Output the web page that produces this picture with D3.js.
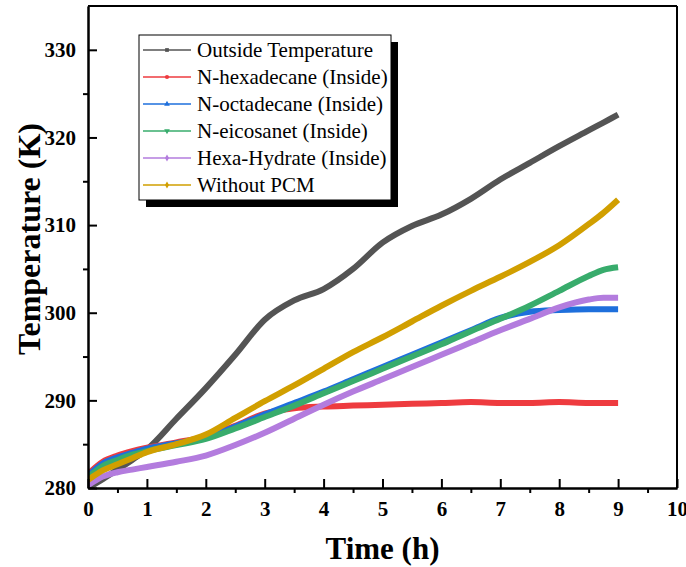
<!DOCTYPE html>
<html>
<head>
<meta charset="utf-8">
<script src="https://cdn.jsdelivr.net/npm/d3@7"></script>
<style>
  html, body { margin: 0; padding: 0; background: #fff; }
  svg { display: block; }
  text { font-family: "Liberation Serif", "Times New Roman", serif; }
</style>
</head>
<body>
<div id="chart"></div>
<script>
// Time axis samples (h)
const hours = [0, 0.25, 0.5, 0.75, 1, 1.5, 2, 2.5, 3, 3.5, 4, 4.5, 5, 5.5, 6, 6.5, 7, 7.5, 8, 8.5, 8.75, 9];

// Temperatures (K) for each case
const outsideTemp   = [280.0, 281.0, 282.1, 283.2, 284.4, 287.9, 291.4, 295.2, 299.2, 301.4, 302.7, 305.0, 308.0, 309.9, 311.2, 313.0, 315.2, 317.1, 319.0, 320.8, 321.7, 322.6];
const nHexadecane   = [281.6, 283.0, 283.7, 284.2, 284.6, 285.2, 285.9, 287.1, 288.5, 289.1, 289.3, 289.4, 289.5, 289.6, 289.7, 289.8, 289.7, 289.7, 289.8, 289.7, 289.7, 289.7];
const nOctadecane   = [281.4, 282.8, 283.5, 284.0, 284.5, 285.1, 285.8, 287.0, 288.4, 289.7, 291.0, 292.4, 293.8, 295.2, 296.6, 298.0, 299.4, 300.1, 300.3, 300.4, 300.4, 300.4];
const nEicosanet    = [281.2, 282.5, 283.2, 283.8, 284.2, 284.9, 285.6, 286.8, 288.1, 289.4, 290.8, 292.2, 293.6, 295.0, 296.4, 297.9, 299.3, 300.8, 302.5, 304.2, 304.9, 305.2];
const hexaHydrate   = [280.3, 281.3, 281.8, 282.1, 282.4, 283.0, 283.7, 284.9, 286.3, 287.9, 289.5, 291.0, 292.4, 293.8, 295.2, 296.6, 298.0, 299.3, 300.6, 301.5, 301.7, 301.7];
const withoutPCM    = [280.9, 282.0, 282.7, 283.4, 284.1, 285.0, 286.1, 288.0, 289.9, 291.7, 293.6, 295.5, 297.2, 299.0, 300.8, 302.5, 304.1, 305.8, 307.7, 310.1, 311.4, 312.9];

const seriesNames  = ["Outside Temperature", "N-hexadecane (Inside)", "N-octadecane (Inside)", "N-eicosanet (Inside)", "Hexa-Hydrate (Inside)", "Without PCM"];
const seriesValues = [outsideTemp, nHexadecane, nOctadecane, nEicosanet, hexaHydrate, withoutPCM];
const seriesColors = ["#545454", "#EE3B3F", "#1E6FDC", "#38AC6C", "#B37CDE", "#D19F00"];
const seriesSymbols = [d3.symbolSquare, d3.symbolCircle, d3.symbolTriangle, d3.symbolTriangle, d3.symbolDiamond, d3.symbolDiamond];

const xTicks = [0, 1, 2, 3, 4, 5, 6, 7, 8, 9, 10];
const yTicks = [280, 290, 300, 310, 320, 330];

const W = 686, H = 567;
const margin = { left: 88, right: 9, top: 6, bottom: 79 };

const svg = d3.select("#chart").append("svg")
  .attr("width", W).attr("height", H);

const x = d3.scaleLinear().domain([0, 10]).range([margin.left, W - margin.right]);
const y = d3.scaleLinear().domain([280, 335]).range([H - margin.bottom, margin.top]);

// clip region for data lines
svg.append("clipPath").attr("id", "plot-clip")
  .append("rect")
  .attr("x", x(0)).attr("y", y(335))
  .attr("width", x(10) - x(0)).attr("height", y(280) - y(335));

const line = d3.line()
  .x((d, i) => x(hours[i]))
  .y(d => y(d))
  .curve(d3.curveMonotoneX);

const lines = svg.append("g").attr("clip-path", "url(#plot-clip)");
seriesValues.forEach((vals, k) => {
  lines.append("path")
    .datum(vals)
    .attr("d", line)
    .attr("fill", "none")
    .attr("stroke", seriesColors[k])
    .attr("stroke-width", 6)
    .attr("stroke-linejoin", "round")
    .attr("stroke-linecap", "butt");
});

// axes: major ticks inward, minor ticks outward
const tickFont = g => g.selectAll("text")
  .attr("font-family", "Liberation Serif, Times New Roman, serif")
  .attr("font-weight", "bold")
  .attr("font-size", 21)
  .attr("fill", "#000");

const xMajor = svg.append("g")
  .attr("transform", `translate(0,${y(280)})`)
  .call(d3.axisBottom(x).tickValues(xTicks).tickFormat(d3.format("d")).tickSizeInner(-9).tickSizeOuter(0).tickPadding(13));
xMajor.call(tickFont);

svg.append("g")
  .attr("transform", `translate(0,${y(280)})`)
  .call(d3.axisBottom(x).tickValues(d3.range(0.5, 10, 1)).tickFormat("").tickSizeInner(5).tickSizeOuter(0));

const yMajor = svg.append("g")
  .attr("transform", `translate(${x(0)},0)`)
  .call(d3.axisLeft(y).tickValues(yTicks).tickFormat(d3.format("d")).tickSizeInner(-9).tickSizeOuter(0).tickPadding(12));
yMajor.call(tickFont);

svg.append("g")
  .attr("transform", `translate(${x(0)},0)`)
  .call(d3.axisLeft(y).tickValues(d3.range(285, 335, 10)).tickFormat("").tickSizeInner(5).tickSizeOuter(0));

svg.selectAll(".domain").attr("stroke", "#000").attr("stroke-width", 2);
svg.selectAll(".tick line").attr("stroke", "#000").attr("stroke-width", 2);

// top and right frame
svg.append("line").attr("x1", x(0)).attr("x2", x(10)).attr("y1", y(335)).attr("y2", y(335))
  .attr("stroke", "#000").attr("stroke-width", 2);
svg.append("line").attr("x1", x(10)).attr("x2", x(10)).attr("y1", y(335)).attr("y2", y(280))
  .attr("stroke", "#000").attr("stroke-width", 2);

// axis titles
svg.append("text")
  .attr("x", (x(0) + x(10)) / 2).attr("y", 559)
  .attr("text-anchor", "middle")
  .attr("font-weight", "bold").attr("font-size", 31)
  .text("Time (h)");

svg.append("text")
  .attr("transform", `translate(40,${(y(280) + y(335)) / 2 - 8}) rotate(-90)`)
  .attr("text-anchor", "middle")
  .attr("font-weight", "bold").attr("font-size", 32)
  .text("Temperature (K)");

// legend with drop shadow
const lg = { x: 139, y: 35, w: 252, h: 165, shadow: 7 };
svg.append("rect")
  .attr("x", lg.x + lg.shadow).attr("y", lg.y + lg.shadow)
  .attr("width", lg.w).attr("height", lg.h)
  .attr("fill", "#000");
svg.append("rect")
  .attr("x", lg.x).attr("y", lg.y)
  .attr("width", lg.w).attr("height", lg.h)
  .attr("fill", "#fff").attr("stroke", "#000").attr("stroke-width", 1);

seriesNames.forEach((name, k) => {
  const cy = 50 + k * 27;
  svg.append("line")
    .attr("x1", 143).attr("x2", 191).attr("y1", cy).attr("y2", cy)
    .attr("stroke", seriesColors[k]).attr("stroke-width", 1.5);
  svg.append("path")
    .attr("d", d3.symbol().type(seriesSymbols[k]).size(14)())
    .attr("transform", `translate(167,${cy})` + (k === 3 ? " rotate(180)" : ""))
    .attr("fill", seriesColors[k]);
  svg.append("text")
    .attr("x", 197).attr("y", cy + 7)
    .attr("font-size", 21).attr("fill", "#000")
    .text(name);
});
</script>
</body>
</html>
